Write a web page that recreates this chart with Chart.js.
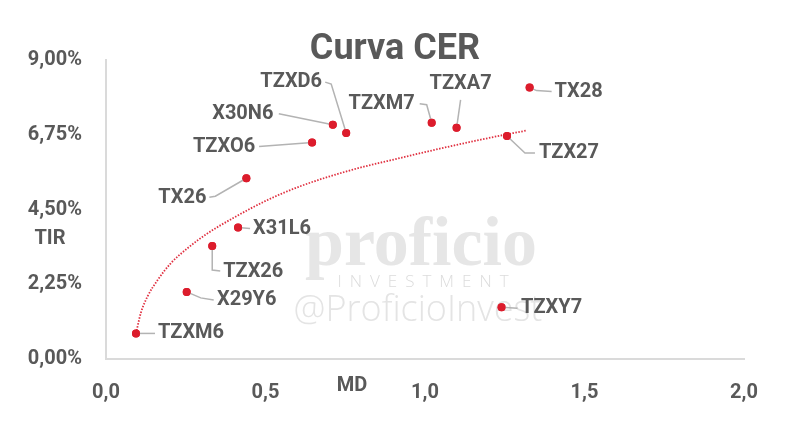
<!DOCTYPE html>
<html><head><meta charset="utf-8">
<script src="https://cdn.jsdelivr.net/npm/chart.js@4"></script>
<style>html,body{margin:0;padding:0;background:#fff}#wrap{width:800px;height:437px;position:relative}</style>
</head><body><div id="wrap"><canvas id="c"></canvas></div>
<script>
// ---- data ----
const bonds = ['TZXM6','X29Y6','TZX26','X31L6','TX26','TZXO6','X30N6','TZXD6','TZXM7','TZXA7','TX28','TZX27','TZXY7'];
const md    = [0.094, 0.253, 0.333, 0.414, 0.440, 0.646, 0.711, 0.753, 1.021, 1.099, 1.328, 1.257, 1.240];
const tir   = [0.77, 2.02, 3.40, 3.96, 5.44, 6.52, 7.05, 6.80, 7.11, 6.96, 8.17, 6.71, 1.56];
const trendMd  = [0.094, 0.109, 0.130, 0.162, 0.203, 0.255, 0.318, 0.400, 0.505, 0.609, 0.766, 0.922, 1.078, 1.234, 1.320];
const trendTir = [0.77, 1.38, 1.88, 2.38, 2.88, 3.33, 3.78, 4.25, 4.78, 5.20, 5.68, 6.05, 6.40, 6.72, 6.88];
const xTicks = [0, 0.5, 1.0, 1.5, 2.0];
const yTicks = [0, 2.25, 4.5, 6.75, 9.0];
const titleText = 'Curva CER';
const xTitle = 'MD';
const yTitle = 'TIR';

// ---- label layout (pixel offsets from each point) ----
const labelLayout = {
  'TZXM6': {dx:55, dy:0,   path:[[0,0],[19,0]]},
  'X29Y6': {dx:60, dy:8,   path:[[0,0],[14,6],[27,8]]},
  'TZX26': {dx:41, dy:26,  path:[[0,0],[0,24],[8,25]]},
  'X31L6': {dx:44, dy:2,   path:[[0,0],[12,1]]},
  'TX26':  {dx:-64, dy:20, path:[[0,0],[-31,18],[-37,19]]},
  'TZXO6': {dx:-88, dy:5,  path:[[0,0],[-53,4]]},
  'X30N6': {dx:-90, dy:-11,path:[[0,0],[-54,-11]]},
  'TZXD6': {dx:-55, dy:-51,path:[[0,0],[-15,-49],[-21,-51]]},
  'TZXM7': {dx:-50, dy:-19,path:[[0,0],[-5,-18],[-12,-19]]},
  'TZXA7': {dx:4,  dy:-44, path:[[0,0],[4,-28]]},
  'TX28':  {dx:49, dy:4,   path:[[0,0],[7,3],[22,4]]},
  'TZX27': {dx:62, dy:17,  path:[[0,0],[18,17],[28,17]]},
  'TZXY7': {dx:50, dy:1,   path:[[0,0],[16,1]]}
};

const GRAY = '#595959';
const RED = '#dc1c2c';

const points = bonds.map((b,i)=>({x:md[i], y:tir[i], label:b}));
const trend = trendMd.map((x,i)=>({x:x, y:trendTir[i]}));

const decor = {
  id:'decor',
  beforeDatasetsDraw(chart){
    const ctx = chart.ctx;
    ctx.save();
    ctx.textAlign='center';
    ctx.fillStyle='#e6e6e6';
    ctx.font='bold 70px "Liberation Serif"';
    ctx.textBaseline='alphabetic';
    ctx.fillText('proficio', 421, 265);
    ctx.fillStyle='#dcdcdc';
    ctx.font='300 17px "Open Sans"';
    ctx.textBaseline='middle';
    try{ ctx.letterSpacing='8px'; }catch(e){}
    ctx.fillText('INVESTMENT', 427, 282);
    try{ ctx.letterSpacing='0px'; }catch(e){}
    ctx.fillStyle='#e4e4e4';
    ctx.font='300 36px "Open Sans"';
    ctx.fillText('@ProficioInvest', 418, 311);
    ctx.restore();
  },
  afterDatasetsDraw(chart){
    const ctx = chart.ctx;
    const meta = chart.getDatasetMeta(1);
    ctx.save();
    // leaders
    ctx.strokeStyle='#b3b3b3';
    ctx.lineWidth=1.5;
    meta.data.forEach((el,i)=>{
      const L = labelLayout[bonds[i]];
      if(!L) return;
      ctx.beginPath();
      L.path.forEach((p,j)=>{
        const X = el.x+p[0], Y = el.y+p[1];
        if(j===0) ctx.moveTo(X,Y); else ctx.lineTo(X,Y);
      });
      ctx.stroke();
    });
    // redraw points on top of leaders
    ctx.fillStyle=RED;
    meta.data.forEach(el=>{ctx.beginPath();ctx.arc(el.x,el.y,4,0,Math.PI*2);ctx.fill();});
    // labels
    ctx.fillStyle=GRAY;
    ctx.font='bold 20px Roboto';
    ctx.textAlign='center';
    ctx.textBaseline='middle';
    meta.data.forEach((el,i)=>{
      const L = labelLayout[bonds[i]];
      ctx.fillText(bonds[i], el.x+L.dx, el.y+L.dy);
    });
    // title and axis titles
    ctx.font='bold 36px Roboto';
    ctx.textBaseline='alphabetic';
    ctx.fillText(titleText, 395, 59);
    ctx.font='bold 20px Roboto';
    ctx.textBaseline='middle';
    ctx.fillText(xTitle, 352, 386);
    ctx.fillText(yTitle, 50, 239);
    ctx.restore();
  }
};

new Chart(document.getElementById('c'), {
  data:{
    datasets:[
      {type:'line', data:trend, borderColor:'#e03040', borderWidth:1.8, borderDash:[1.5,1.5],
       pointRadius:0, fill:false, tension:0.4, cubicInterpolationMode:'monotone', order:2},
      {type:'scatter', data:points, backgroundColor:RED, borderWidth:0, pointRadius:4, order:1}
    ]
  },
  options:{
    responsive:true, maintainAspectRatio:false, animation:false,
    layout:{padding:{top:60, right:56, left:0, bottom:0}},
    plugins:{legend:{display:false}, title:{display:false}, tooltip:{enabled:false}},
    scales:{
      x:{type:'linear', min:0, max:2,
        afterBuildTicks:s=>{s.ticks = xTicks.map(v=>({value:v}));},
        afterFit:s=>{s.height=78;},
        grid:{display:false, drawTicks:false},
        border:{display:true, color:'#dadada', width:2},
        ticks:{padding:22, color:GRAY, font:{family:'Roboto', size:20, weight:'bold'},
          callback:v=>Number(v).toFixed(1).replace('.',',')}
      },
      y:{type:'linear', min:0, max:9,
        afterBuildTicks:s=>{s.ticks = yTicks.map(v=>({value:v}));},
        afterFit:s=>{s.width=106;},
        grid:{display:false, drawTicks:false},
        border:{display:true, color:'#dadada', width:2},
        ticks:{padding:24, color:GRAY, font:{family:'Roboto', size:20, weight:'bold'},
          callback:v=>Number(v).toFixed(2).replace('.',',')+'%'}
      }
    }
  },
  plugins:[decor]
});
</script>
</body></html>
